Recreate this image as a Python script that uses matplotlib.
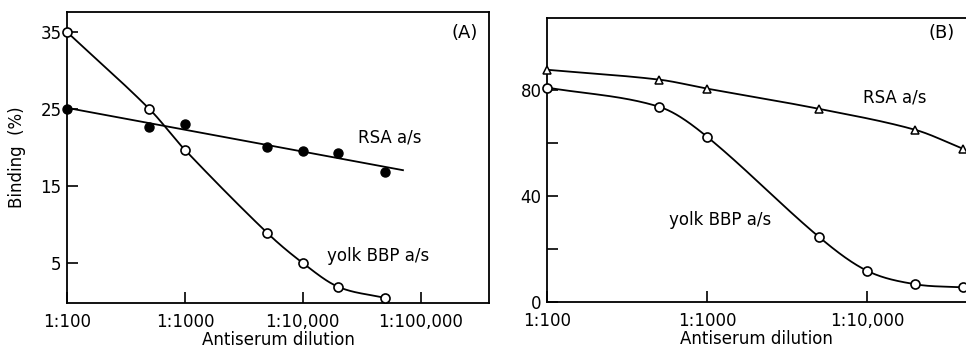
import numpy as np
import matplotlib
matplotlib.use("Agg")
import matplotlib.pyplot as plt

# ---- Data ----
# Panel A
a_dil_yolk = [100, 500, 1000, 5000, 10000, 20000, 50000]
a_yolk = [35.0, 25.0, 19.7, 8.9, 5.0, 1.9, 0.45]
a_dil_rsa = [100, 500, 1000, 5000, 10000, 20000, 50000]
a_rsa = [25.0, 22.7, 23.0, 20.1, 19.6, 19.3, 16.8]

# Panel B
b_dil_rsa = [100, 500, 1000, 5000, 20000, 40000]
b_rsa = [87.5, 83.8, 80.4, 72.8, 64.9, 57.7]
b_dil_yolk = [100, 500, 1000, 5000, 10000, 20000, 40000]
b_yolk = [80.8, 73.6, 62.3, 24.6, 11.8, 6.7, 5.5]

a_xticks = [100, 1000, 10000, 100000]
a_xticklabels = ["1:100", "1:1000", "1:10,000", "1:100,000"]
a_yticks = [5, 15, 25, 35]
b_xticks = [100, 1000, 10000]
b_xticklabels = ["1:100", "1:1000", "1:10,000"]
b_yticks = [0, 20, 40, 60, 80]
b_yticklabels = ["0", "", "40", "", "80"]


def cardinal(x, y, xn):
    """Non-uniform Catmull-Rom style cubic Hermite interpolation."""
    x = np.asarray(x, float); y = np.asarray(y, float)
    n = len(x)
    h = np.diff(x); d = np.diff(y) / h
    m = np.zeros(n)
    m[0] = d[0]; m[-1] = d[-1]
    for k in range(1, n - 1):
        m[k] = (y[k + 1] - y[k - 1]) / (x[k + 1] - x[k - 1])
    out = np.empty_like(xn)
    for i, xv in enumerate(xn):
        k = min(max(np.searchsorted(x, xv) - 1, 0), n - 2)
        t = (xv - x[k]) / h[k]
        h00 = 2 * t**3 - 3 * t**2 + 1; h10 = t**3 - 2 * t**2 + t
        h01 = -2 * t**3 + 3 * t**2; h11 = t**3 - t**2
        out[i] = h00 * y[k] + h10 * h[k] * m[k] + h01 * y[k + 1] + h11 * h[k] * m[k + 1]
    return out


def smooth(xs, ys):
    lx = np.log10(xs)
    xn = np.linspace(lx[0], lx[-1], 400)
    return 10 ** xn, cardinal(lx, ys, xn)


plt.rcParams['font.family'] = ['DejaVu Sans']
plt.rcParams['font.size'] = 12

fig = plt.figure(figsize=(9.66, 3.5), dpi=100)
W, H = 966, 350

def add_ax(l, t, r, b):
    return fig.add_axes([l / W, 1 - b / H, (r - l) / W, (b - t) / H])

def ftext(x, y, s, size=12):
    fig.text(x / W, 1 - y / H, s, ha='center', va='center', fontsize=size)

lw = 1.3
ms = 6.5

# ---- Panel A ----
axA = add_ax(67, 12, 489, 303)
axA.set_xscale('log')
axA.set_xlim(100, 10 ** 5.58)
axA.set_ylim(-0.2, 37.6)
# RSA: straight fitted line in log space
coef = np.polyfit(np.log10(a_dil_rsa), a_rsa, 1)
xl = np.array([2.0, 4.85])
axA.plot(10 ** xl, np.polyval(coef, xl), color='black', lw=lw)
axA.plot(a_dil_rsa, a_rsa, 'o', color='black', ms=ms, clip_on=False, zorder=3)
sx, sy = smooth(a_dil_yolk, a_yolk)
axA.plot(sx, sy, color='black', lw=lw)
axA.plot(a_dil_yolk, a_yolk, 'o', mfc='white', mec='black', mew=1.2, ms=ms,
         clip_on=False, zorder=3)
axA.set_xticks(a_xticks)
axA.set_xticklabels(a_xticklabels)
axA.xaxis.set_minor_locator(matplotlib.ticker.NullLocator())
axA.set_yticks(a_yticks)
axA.tick_params(direction='in', length=8, width=1.2, labelsize=12, pad=4)
axA.tick_params(axis='x', pad=7)
axA.set_xlabel("Antiserum dilution", fontsize=12, labelpad=0)
axA.set_ylabel("Binding  (%)", fontsize=12, labelpad=10)
for sp in axA.spines.values():
    sp.set_linewidth(1.3)

# ---- Panel B ----
axB = add_ax(547, 18, 966, 302)
axB.set_xscale('log')
axB.set_xlim(100, 10 ** 4.62)
axB.set_ylim(0, 107)
sx, sy = smooth(b_dil_rsa, b_rsa)
axB.plot(sx, sy, color='black', lw=lw)
axB.plot(b_dil_rsa, b_rsa, '^', mfc='white', mec='black', mew=1.1, ms=6,
         clip_on=False, zorder=3)
sx, sy = smooth(b_dil_yolk, b_yolk)
axB.plot(sx, sy, color='black', lw=lw)
axB.plot(b_dil_yolk, b_yolk, 'o', mfc='white', mec='black', mew=1.2, ms=ms,
         clip_on=False, zorder=3)
axB.set_xticks(b_xticks)
axB.set_xticklabels(b_xticklabels)
axB.xaxis.set_minor_locator(matplotlib.ticker.NullLocator())
axB.set_yticks(b_yticks)
axB.set_yticklabels(b_yticklabels)
axB.tick_params(direction='in', length=8, width=1.2, labelsize=12, pad=4)
axB.tick_params(axis='x', pad=7)
axB.set_xlabel("Antiserum dilution", fontsize=12, labelpad=0)
axB.spines['right'].set_visible(False)
for sp in axB.spines.values():
    sp.set_linewidth(1.3)

# annotations (figure pixel coordinates)
ftext(465, 33, "(A)", 13)
ftext(390, 137, "RSA a/s")
ftext(378, 256, "yolk BBP a/s")
ftext(942, 33, "(B)", 13)
ftext(895, 98, "RSA a/s")
ftext(720, 220, "yolk BBP a/s")

fig.savefig("out.png", dpi=100)
